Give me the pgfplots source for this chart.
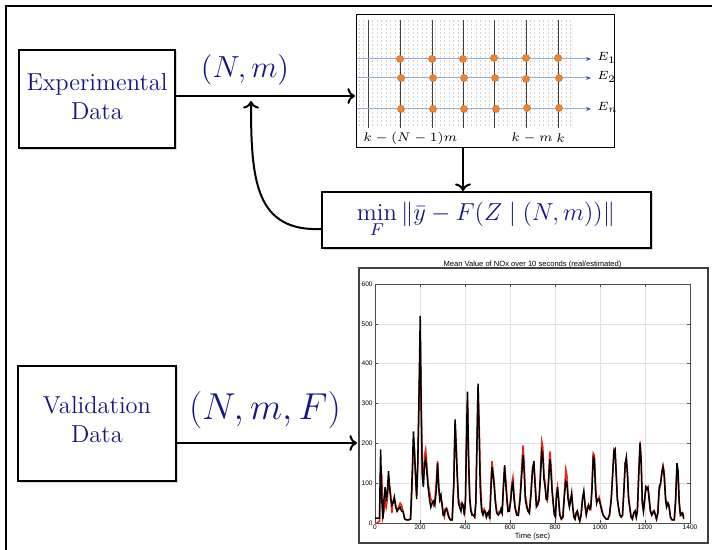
\RequirePackage{fix-cm}
\documentclass[border=0pt]{standalone}
\usepackage{fontspec}
\usepackage{pgfplots}
\pgfplotsset{compat=1.18}
\usepackage{pgfplotstable}
\usetikzlibrary{arrows.meta}
\newfontfamily\chartfont{Liberation Sans}
\definecolor{txtblue}{RGB}{22,22,130}
\definecolor{eblue}{RGB}{150,170,235}
\definecolor{ehead}{RGB}{60,80,190}
\definecolor{dotorange}{RGB}{240,130,50}
\definecolor{nred}{RGB}{235,35,20}

% time, estimated (black), real (red)
\pgfplotstableread{
t b r
0 12 0
10 12 0
20 12 5
25 185 135
30 60 120
35 10 15
40 60 30
45 90 55
50 55 40
55 80 60
60 130 100
65 90 95
70 60 70
75 45 25
80 50 55
86 65 60
92 40 45
98 30 30
105 35 40
112 40 50
118 30 45
125 28 30
132 10 10
140 8 8
150 8 8
158 10 10
165 120 90
171 230 210
176 170 180
180 120 120
185 60 70
190 150 140
195 300 290
201 520 470
205 300 320
210 120 140
215 90 100
220 150 170
225 160 185
230 130 150
236 90 100
242 60 80
248 40 60
254 50 55
260 55 45
266 45 60
272 80 100
278 150 155
283 90 100
288 60 55
293 70 60
298 45 50
303 20 25
308 20 15
313 35 35
318 35 38
323 25 30
328 15 15
335 8 8
343 8 8
350 100 90
356 260 255
361 180 200
366 110 120
371 50 60
376 40 50
382 30 45
387 50 45
392 45 40
397 20 25
402 60 50
406 200 180
411 330 310
416 150 170
421 60 70
426 30 35
431 20 25
437 20 20
443 15 15
448 50 50
453 200 190
458 350 340
463 220 250
468 80 120
474 30 40
480 20 25
485 30 35
490 30 25
495 15 15
500 25 20
505 28 28
510 10 15
515 80 100
520 140 155
525 120 130
530 90 100
535 50 60
541 25 30
548 20 25
555 25 30
560 35 30
565 25 25
570 80 90
576 145 140
581 100 110
586 60 70
591 30 30
597 30 35
603 55 60
608 90 100
613 100 115
618 60 70
623 35 40
630 20 25
637 20 20
645 60 70
652 120 140
658 170 195
663 130 150
668 60 70
674 40 50
680 30 30
686 25 25
693 70 80
700 130 140
706 155 150
712 90 100
717 40 60
723 45 50
729 60 55
735 110 130
741 180 205
746 170 190
751 110 120
756 90 100
761 60 60
766 60 55
772 110 120
777 160 180
782 130 150
787 80 90
792 50 50
797 20 25
802 15 15
806 60 70
811 90 90
816 60 60
821 20 25
828 10 10
835 15 15
842 70 80
848 105 135
853 100 120
858 60 70
864 40 45
869 55 60
874 75 70
879 40 40
884 15 15
889 10 10
894 25 25
899 30 30
904 15 20
910 5 5
916 20 20
922 60 60
928 80 75
934 40 45
939 20 25
944 35 40
949 45 45
954 35 40
959 40 35
964 80 90
970 165 175
975 160 170
980 80 100
985 50 55
990 60 55
996 60 65
1002 45 50
1008 30 35
1014 20 20
1020 15 15
1027 10 10
1035 10 10
1042 20 20
1050 60 60
1057 130 130
1062 180 185
1067 185 180
1072 120 130
1077 60 60
1082 40 40
1088 20 20
1094 15 15
1100 20 20
1106 80 80
1112 150 150
1117 165 160
1122 120 130
1127 60 65
1132 40 40
1138 15 15
1144 10 10
1150 25 25
1156 30 30
1161 15 15
1166 30 30
1172 120 120
1178 200 205
1183 150 160
1188 50 50
1193 30 30
1198 55 60
1203 90 80
1208 85 90
1213 90 85
1218 60 70
1224 30 30
1230 20 20
1236 25 30
1241 30 30
1246 20 20
1251 10 10
1257 25 25
1263 90 80
1269 100 95
1275 125 130
1280 140 145
1285 120 130
1291 60 70
1296 40 45
1302 50 50
1307 40 45
1313 15 15
1320 8 8
1330 8 8
1336 60 50
1342 150 140
1347 130 120
1352 50 55
1357 20 25
1362 25 20
1367 25 25
1372 10 15
}\noxdata

% orange sample points on the delay grid
\pgfplotstableread{
x y
400 59
432 59
463 59
494 58
526 58
558 58
401 78
433 78
464 78
495 78
526 79
559 78
401 109
433 109
464 109
496 109
527 108
559 108
}\gridpts

\begin{document}
\begin{tikzpicture}[x=0.5bp,y=-0.5bp]
\useasboundingbox (0,0) rectangle (712,550);
\draw[line width=0.75bp] (6,550) -- (6,6) -- (712,6);

% boxes
\fill[black!15] (20.5,51.5) rectangle (177,150);
\draw[fill=white,line width=0.6bp] (19,50) rectangle (175,148);
\node[txtblue,align=center,font=\fontsize{12.3}{14.5}\selectfont] at (97,97) {Experimental\\Data};

\fill[black!15] (19.5,367.5) rectangle (178,483);
\draw[fill=white,line width=0.6bp] (18,366) rectangle (176,481);
\node[txtblue,align=center,font=\fontsize{12.3}{14.5}\selectfont] at (97,420) {Validation\\Data};

\fill[black!15] (323.5,193.5) rectangle (653,250);
\draw[fill=white,line width=0.6bp] (322,192) rectangle (651,248);
\node[txtblue,font=\fontsize{12.3}{14.5}\selectfont] at (486,220)
  {$\displaystyle\min_F \|\bar y - F(Z \mid (N,m))\|$};

\node[txtblue,font=\fontsize{15.3}{18}\selectfont] at (245,70) {$(N,m)$};
\node[txtblue,font=\fontsize{18.8}{22}\selectfont] at (265,410) {$(N,m,F)$};

% arrows
\draw[line width=1bp,->] (175,96) -- (355,96);
\draw[line width=1bp,->] (463,148) -- (463,191);
\draw[line width=1bp,->] (322,229) .. controls (255,232) and (251,180) .. (251,101);
\draw[line width=1bp,->] (176,443) -- (357,443);

% delay grid
\coordinate (g) at (356,148);
\begin{axis}[at={(g)},anchor=south west,scale only axis,
  width=129bp,height=66.5bp,
  xmin=356,xmax=614,ymin=15,ymax=148,y dir=reverse,enlargelimits=false,
  xtick=\empty,ytick=\empty,axis line style={line width=0.5bp},
  axis background/.style={fill=white},clip=false]
\pgfplotsinvokeforeach{359,363.5,...,570}{
  \addplot[gray!35,line width=0.25bp,dash pattern=on 1bp off 1bp,forget plot]
    coordinates {(#1,20) (#1,128)};}
\pgfplotsinvokeforeach{368,400,432,463,494,526,558}{
  \addplot[black!75,line width=0.5bp,forget plot] coordinates {(#1,20) (#1,128)};}
\pgfplotsinvokeforeach{59,78,109}{
  \addplot[eblue,line width=0.5bp,-{Stealth[length=2.5bp,width=2bp,color=ehead]},forget plot]
    coordinates {(357,#1) (591,#1)};}
\addplot[only marks,mark=*,mark size=1.8bp,color=dotorange,
  mark options={draw=dotorange!85!black,line width=0.2bp}] table[x=x,y=y]{\gridpts};
\node[anchor=west,inner sep=0pt,font=\fontsize{6}{7}\selectfont] at (axis cs:597,58) {$E_1$};
\node[anchor=west,inner sep=0pt,font=\fontsize{6}{7}\selectfont] at (axis cs:597,77) {$E_2$};
\node[anchor=west,inner sep=0pt,font=\fontsize{6}{7}\selectfont] at (axis cs:597,107) {$E_n$};
\node[anchor=west,inner sep=0pt,font=\fontsize{6.3}{7}\selectfont] at (axis cs:363,138) {$k-(N-1)m$};
\node[anchor=west,inner sep=0pt,font=\fontsize{6.3}{7}\selectfont] at (axis cs:511,138) {$k-m$};
\node[anchor=west,inner sep=0pt,font=\fontsize{6.3}{7}\selectfont] at (axis cs:556,138) {$k$};
\end{axis}

% NOx chart
\draw[black!75,line width=0.7bp] (359,268) rectangle (708,543);
\coordinate (c) at (375,523);
\begin{axis}[at={(c)},anchor=south west,scale only axis,
  width=157.5bp,height=119.5bp,
  xmin=0,xmax=1400,ymin=0,ymax=600,enlargelimits=false,
  xtick={0,200,...,1400},ytick={0,100,...,600},
  grid=major,major grid style={black!12,line width=0.3bp},
  tick align=inside,major tick length=1.5bp,
  tick style={black!70,line width=0.3bp},
  axis line style={black!70,line width=0.4bp},
  ticklabel style={font=\chartfont\fontsize{3.3}{4}\selectfont,inner sep=1bp},
  /pgf/number format/assume math mode=true,
  /pgf/number format/1000 sep={},
  title={Mean Value of NOx over 10 seconds (real/estimated)},
  title style={font=\chartfont\fontsize{3.8}{4.5}\selectfont,at={(0.5,1)},
    anchor=south,inner sep=0pt,yshift=1.8bp},
  xlabel={Time (sec)},
  xlabel style={font=\chartfont\fontsize{3.8}{4.5}\selectfont,at={(0.5,0)},
    anchor=center,yshift=-7bp}]
\addplot[nred,line width=0.75bp] table[x=t,y=r]{\noxdata};
\addplot[black,line width=0.75bp] table[x=t,y=b]{\noxdata};
\end{axis}
\end{tikzpicture}
\end{document}
